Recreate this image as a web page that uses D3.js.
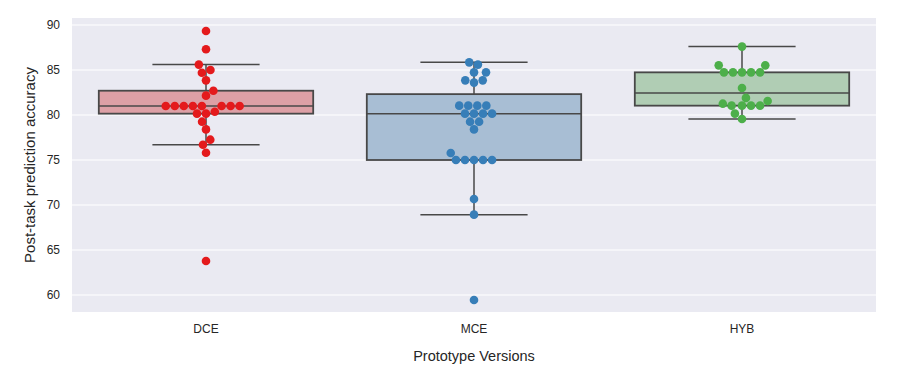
<!DOCTYPE html>
<html>
<head>
<meta charset="utf-8">
<script src="https://cdn.jsdelivr.net/npm/d3@7"></script>
<style>
  body { margin: 0; background: #fff; }
  text { font-family: "Liberation Sans", Arial, sans-serif; fill: #262626; }
</style>
</head>
<body>
<div id="chart"></div>
<script>
var categories = ["DCE", "MCE", "HYB"];
var dceValues = [89.33, 87.3, 85.6, 85.0, 84.7, 83.85, 82.7, 82.15,
  81.0, 81.0, 81.0, 81.0, 81.0, 81.0, 81.0, 81.0,
  80.37, 80.15, 80.15, 79.26, 78.4, 77.26, 76.7, 75.8, 63.78];
var mceValues = [85.85, 85.6, 84.74, 84.74, 83.85, 83.85, 83.6,
  81.04, 81.04, 81.04, 81.04, 80.15, 80.15, 80.15, 80.15,
  79.26, 79.26, 78.4, 75.78, 75.0, 75.0, 75.0, 75.0, 75.0,
  70.67, 68.93, 59.44];
var hybValues = [87.6, 85.52, 85.52, 84.74, 84.74, 84.74, 84.74, 84.74,
  83.0, 81.9, 81.56, 81.26, 81.04, 81.04, 81.04, 81.04, 80.15, 79.56];
var yTicks = [60, 65, 70, 75, 80, 85, 90];
var colors = ["#e41a1c", "#377eb8", "#4daf4a"];
var boxColors = ["#cb3335", "#477ca8", "#59a257"];

var W = 921, H = 384;
var margin = {top: 18, right: 45, bottom: 72, left: 72};
var width = W - margin.left - margin.right;
var height = H - margin.top - margin.bottom;

var svg = d3.select("#chart").append("svg")
  .attr("width", W)
  .attr("height", H);

var g = svg.append("g")
  .attr("transform", "translate(" + margin.left + "," + margin.top + ")");

var x = d3.scaleBand().domain(categories).range([0, width]).padding(0);
var y = d3.scaleLinear().domain([58.11, 90.78]).range([height, 0]);

g.append("rect")
  .attr("width", width)
  .attr("height", height)
  .attr("fill", "#eaeaf2");

g.selectAll(".grid")
  .data(yTicks)
  .enter()
  .append("line")
  .attr("class", "grid")
  .attr("x1", 0)
  .attr("x2", width)
  .attr("y1", d => y(d))
  .attr("y2", d => y(d))
  .attr("stroke", "#fff")
  .attr("stroke-width", 1.2);

var axisY = d3.axisLeft(y).tickValues(yTicks).tickSize(0).tickPadding(12);
g.append("g").call(axisY)
  .call(s => s.select(".domain").remove())
  .selectAll("text")
  .style("font-size", "12px")
  .attr("fill", "#262626");

var axisX = d3.axisBottom(x).tickSize(0).tickPadding(12);
g.append("g")
  .attr("transform", "translate(0," + height + ")")
  .call(axisX)
  .call(s => s.select(".domain").remove())
  .selectAll("text")
  .style("font-size", "12px")
  .attr("fill", "#262626");

svg.append("text")
  .attr("transform", "rotate(-90)")
  .attr("x", -(margin.top + height / 2))
  .attr("y", 35)
  .style("text-anchor", "middle")
  .style("font-size", "15px")
  .text("Post-task prediction accuracy");

svg.append("text")
  .attr("x", margin.left + width / 2)
  .attr("y", 361)
  .style("text-anchor", "middle")
  .style("font-size", "14.5px")
  .text("Prototype Versions");

var groups = [dceValues, mceValues, hybValues];
var boxW = x.bandwidth() * 0.8;
var lineCol = "#484848";

function stats(vals) {
  var s = vals.slice().sort(d3.ascending);
  var q1 = d3.quantile(s, 0.25), med = d3.quantile(s, 0.5), q3 = d3.quantile(s, 0.75);
  var iqr = q3 - q1;
  var lo = d3.min(s.filter(v => v >= q1 - 1.5 * iqr));
  var hi = d3.max(s.filter(v => v <= q3 + 1.5 * iqr));
  return {q1: q1, med: med, q3: q3, lo: lo, hi: hi};
}

groups.forEach(function(vals, i) {
  var st = stats(vals);
  var cx = x(categories[i]) + x.bandwidth() / 2;
  var bg = g.append("g");
  // whiskers
  bg.append("line")
    .attr("x1", cx).attr("x2", cx)
    .attr("y1", y(st.q3)).attr("y2", y(st.hi))
    .attr("stroke", lineCol).attr("stroke-width", 1.5);
  bg.append("line")
    .attr("x1", cx).attr("x2", cx)
    .attr("y1", y(st.q1)).attr("y2", y(st.lo))
    .attr("stroke", lineCol).attr("stroke-width", 1.5);
  [st.hi, st.lo].forEach(function(v) {
    bg.append("line")
      .attr("x1", cx - boxW / 4).attr("x2", cx + boxW / 4)
      .attr("y1", y(v)).attr("y2", y(v))
      .attr("stroke", lineCol).attr("stroke-width", 1.5);
  });
  bg.append("rect")
    .attr("x", cx - boxW / 2)
    .attr("y", y(st.q3))
    .attr("width", boxW)
    .attr("height", y(st.q1) - y(st.q3))
    .attr("fill", "#eaeaf2");
  bg.append("rect")
    .attr("x", cx - boxW / 2)
    .attr("y", y(st.q3))
    .attr("width", boxW)
    .attr("height", y(st.q1) - y(st.q3))
    .attr("fill", boxColors[i])
    .attr("fill-opacity", 0.4)
    .attr("stroke", lineCol)
    .attr("stroke-width", 1.8);
  bg.append("line")
    .attr("x1", cx - boxW / 2).attr("x2", cx + boxW / 2)
    .attr("y1", y(st.med)).attr("y2", y(st.med))
    .attr("stroke", lineCol).attr("stroke-width", 1.5);
});

// beeswarm placement like seaborn
var r = 4.3;
function swarm(vals, cx) {
  var pts = vals.map(v => ({v: v, x: cx, y: y(v)}));
  pts.sort((a, b) => a.v - b.v);
  var placed = [pts[0]];
  for (var k = 1; k < pts.length; k++) {
    var p = pts[k];
    var nb = [];
    for (var j = placed.length - 1; j >= 0; j--) {
      if (Math.abs(p.y - placed[j].y) < 2 * r) nb.push(placed[j]);
      else break;
    }
    var cands = [cx];
    var leftFirst = true;
    nb.forEach(function(n) {
      var dy = p.y - n.y;
      var dx = Math.sqrt(Math.max(4 * r * r - dy * dy, 0)) * 1.05;
      if (leftFirst) cands.push(n.x - dx, n.x + dx);
      else cands.push(n.x + dx, n.x - dx);
      leftFirst = !leftFirst;
    });
    var idx = cands.map((c, i) => i);
    idx.sort((a, b) => (Math.abs(cands[a] - cx) - Math.abs(cands[b] - cx)) || (a - b));
    for (var q = 0; q < idx.length; q++) {
      var cxx = cands[idx[q]];
      var ok = nb.every(n => (n.x - cxx) * (n.x - cxx) + (n.y - p.y) * (n.y - p.y) >= 4 * r * r - 1e-6);
      if (ok) { p.x = cxx; break; }
    }
    placed.push(p);
  }
  return placed;
}

groups.forEach(function(vals, i) {
  var cx = x(categories[i]) + x.bandwidth() / 2;
  g.append("g")
    .selectAll("circle")
    .data(swarm(vals, cx))
    .enter()
    .append("circle")
    .attr("cx", d => d.x)
    .attr("cy", d => d.y)
    .attr("r", r)
    .attr("fill", colors[i]);
});
</script>
</body>
</html>
